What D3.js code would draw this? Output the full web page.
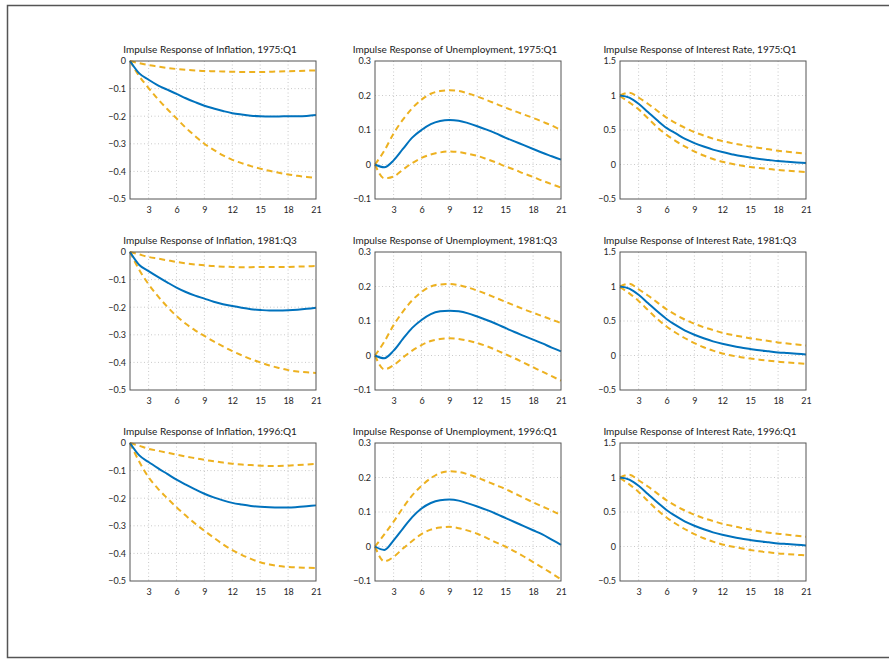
<!DOCTYPE html>
<html><head><meta charset="utf-8">
<script src="https://cdn.jsdelivr.net/npm/d3@7"></script>
<style>body{margin:0;background:#fff;} svg{display:block;}</style>
</head><body>
<svg id="chart" width="889" height="662"></svg>
<script>
const horizons = d3.range(1, 22);
const variables = ["Inflation", "Unemployment", "Interest Rate"];
const periods = ["1975:Q1", "1981:Q3", "1996:Q1"];
const yDomains = [[-0.5, 0], [-0.1, 0.3], [-0.5, 1.5]];
const yTicks = [[0, -0.1, -0.2, -0.3, -0.4, -0.5], [-0.1, 0, 0.1, 0.2, 0.3], [-0.5, 0, 0.5, 1, 1.5]];
const xTicks = [3, 6, 9, 12, 15, 18, 21];

// Inflation
const infl75Mid = [0,-0.045,-0.068,-0.088,-0.104,-0.119,-0.135,-0.149,-0.162,-0.172,-0.181,-0.189,-0.194,-0.198,-0.200,-0.201,-0.201,-0.200,-0.200,-0.199,-0.196];
const infl75Up  = [0,-0.008,-0.015,-0.020,-0.025,-0.029,-0.032,-0.034,-0.036,-0.037,-0.038,-0.039,-0.040,-0.040,-0.040,-0.039,-0.038,-0.037,-0.036,-0.035,-0.034];
const infl75Lo  = [0,-0.055,-0.098,-0.138,-0.174,-0.208,-0.242,-0.272,-0.300,-0.322,-0.342,-0.358,-0.370,-0.381,-0.390,-0.398,-0.405,-0.411,-0.416,-0.420,-0.424];
const infl81Mid = [0,-0.047,-0.069,-0.090,-0.110,-0.129,-0.145,-0.158,-0.169,-0.180,-0.189,-0.196,-0.202,-0.207,-0.210,-0.212,-0.212,-0.211,-0.209,-0.206,-0.202];
const infl81Up  = [0,-0.009,-0.018,-0.024,-0.030,-0.036,-0.041,-0.045,-0.048,-0.051,-0.053,-0.054,-0.055,-0.055,-0.054,-0.054,-0.054,-0.054,-0.053,-0.052,-0.051];
const infl81Lo  = [0,-0.065,-0.117,-0.160,-0.198,-0.232,-0.260,-0.284,-0.304,-0.324,-0.342,-0.359,-0.374,-0.388,-0.400,-0.411,-0.420,-0.428,-0.433,-0.436,-0.438];
const infl96Mid = [0,-0.045,-0.069,-0.091,-0.112,-0.133,-0.151,-0.168,-0.184,-0.197,-0.208,-0.217,-0.223,-0.228,-0.231,-0.233,-0.234,-0.234,-0.232,-0.229,-0.226];
const infl96Up  = [0,-0.010,-0.021,-0.028,-0.035,-0.042,-0.049,-0.055,-0.061,-0.066,-0.071,-0.075,-0.078,-0.080,-0.082,-0.083,-0.083,-0.082,-0.080,-0.078,-0.076];
const infl96Lo  = [0,-0.068,-0.124,-0.165,-0.200,-0.233,-0.263,-0.292,-0.318,-0.343,-0.367,-0.388,-0.405,-0.420,-0.432,-0.440,-0.446,-0.449,-0.451,-0.452,-0.453];
// Unemployment
const unem75Mid = [0,-0.008,0.012,0.045,0.078,0.100,0.117,0.126,0.129,0.127,0.120,0.111,0.101,0.090,0.078,0.067,0.056,0.045,0.034,0.024,0.014];
const unem75Up  = [0,0.040,0.090,0.130,0.163,0.188,0.205,0.213,0.215,0.213,0.206,0.197,0.187,0.176,0.165,0.155,0.145,0.135,0.124,0.113,0.100];
const unem75Lo  = [0,-0.040,-0.035,-0.015,0.004,0.019,0.029,0.035,0.038,0.036,0.031,0.025,0.016,0.006,-0.005,-0.015,-0.026,-0.036,-0.047,-0.057,-0.067];
const unem81Mid = [0,-0.008,0.014,0.048,0.080,0.103,0.120,0.128,0.130,0.128,0.122,0.113,0.103,0.092,0.080,0.068,0.057,0.046,0.035,0.023,0.012];
const unem81Up  = [0,0.040,0.088,0.127,0.160,0.184,0.200,0.206,0.207,0.204,0.197,0.188,0.178,0.167,0.156,0.145,0.134,0.124,0.114,0.104,0.094];
const unem81Lo  = [0,-0.040,-0.028,-0.006,0.014,0.030,0.042,0.048,0.050,0.048,0.043,0.036,0.027,0.016,0.004,-0.008,-0.021,-0.034,-0.047,-0.060,-0.073];
const unem96Mid = [0,-0.010,0.018,0.052,0.085,0.110,0.126,0.134,0.136,0.133,0.125,0.116,0.106,0.095,0.083,0.071,0.059,0.047,0.035,0.020,0.005];
const unem96Up  = [0,0.035,0.072,0.112,0.148,0.176,0.198,0.213,0.218,0.216,0.209,0.200,0.189,0.178,0.167,0.154,0.141,0.128,0.116,0.104,0.091];
const unem96Lo  = [0,-0.043,-0.030,-0.006,0.016,0.036,0.049,0.055,0.057,0.053,0.046,0.037,0.025,0.012,0.000,-0.014,-0.029,-0.045,-0.061,-0.078,-0.095];
// Interest Rate
const rate75Mid = [1.0,0.97,0.88,0.76,0.64,0.53,0.45,0.37,0.31,0.26,0.215,0.18,0.15,0.122,0.10,0.08,0.065,0.05,0.04,0.03,0.02];
const rate75Up  = [1.0,1.04,0.97,0.88,0.78,0.68,0.60,0.53,0.47,0.42,0.375,0.34,0.31,0.285,0.26,0.24,0.22,0.20,0.185,0.17,0.155];
const rate75Lo  = [0.99,0.90,0.80,0.67,0.54,0.43,0.34,0.26,0.19,0.13,0.08,0.04,0.01,-0.015,-0.035,-0.05,-0.065,-0.08,-0.09,-0.10,-0.11];
const rate81Mid = [1.0,0.97,0.88,0.76,0.64,0.53,0.44,0.36,0.30,0.25,0.205,0.17,0.14,0.115,0.095,0.075,0.06,0.045,0.035,0.025,0.015];
const rate81Up  = [1.0,1.04,0.96,0.87,0.77,0.67,0.59,0.52,0.46,0.41,0.37,0.33,0.30,0.275,0.25,0.23,0.21,0.19,0.175,0.16,0.145];
const rate81Lo  = [0.99,0.90,0.79,0.66,0.53,0.42,0.33,0.25,0.18,0.12,0.07,0.03,0.00,-0.025,-0.045,-0.06,-0.075,-0.09,-0.10,-0.11,-0.12];
const rate96Mid = [1.0,0.97,0.88,0.76,0.64,0.53,0.44,0.36,0.30,0.25,0.205,0.17,0.14,0.115,0.095,0.075,0.06,0.045,0.035,0.025,0.015];
const rate96Up  = [1.0,1.04,0.96,0.87,0.77,0.67,0.59,0.52,0.46,0.41,0.37,0.33,0.30,0.27,0.245,0.22,0.20,0.185,0.17,0.155,0.14];
const rate96Lo  = [0.99,0.90,0.79,0.66,0.53,0.42,0.33,0.25,0.18,0.12,0.07,0.03,0.00,-0.025,-0.05,-0.07,-0.085,-0.10,-0.11,-0.12,-0.13];

const panelData = [
  [[infl75Mid, infl75Up, infl75Lo], [unem75Mid, unem75Up, unem75Lo], [rate75Mid, rate75Up, rate75Lo]],
  [[infl81Mid, infl81Up, infl81Lo], [unem81Mid, unem81Up, unem81Lo], [rate81Mid, rate81Up, rate81Lo]],
  [[infl96Mid, infl96Up, infl96Lo], [unem96Mid, unem96Up, unem96Lo], [rate96Mid, rate96Up, rate96Lo]]
];

const svg = d3.select("#chart");
const font = "Lato, 'Open Sans', sans-serif";
svg.append("rect").attr("x", 7.5).attr("y", 5.5).attr("width", 890).attr("height", 652)
  .attr("fill", "none").attr("stroke", "#555").attr("stroke-width", 1.5);

const colLeft = [130, 375, 620];
const rowTop = [61, 252, 443];
const W = 186, H = 138;
const fmt = v => (v < 0 ? "\u2212" : "") + d3.format("")(Math.abs(v));

periods.forEach((per, r) => {
  variables.forEach((vn, c) => {
    const g = svg.append("g").attr("transform", `translate(${colLeft[c]},${rowTop[r]})`);
    const x = d3.scaleLinear().domain([1, 21]).range([0, W]);
    const y = d3.scaleLinear().domain(yDomains[c]).range([H, 0]);
    // grid
    g.append("g").selectAll("line").data(xTicks.filter(t => t < 21)).join("line")
      .attr("x1", d => x(d)).attr("x2", d => x(d)).attr("y1", 0).attr("y2", H)
      .attr("stroke", "#bdbdbd").attr("stroke-width", 0.8).attr("stroke-dasharray", "1,2.5");
    g.append("g").selectAll("line").data(yTicks[c].filter(t => t !== yDomains[c][0] && t !== yDomains[c][1])).join("line")
      .attr("x1", 0).attr("x2", W).attr("y1", d => y(d)).attr("y2", d => y(d))
      .attr("stroke", "#bdbdbd").attr("stroke-width", 0.8).attr("stroke-dasharray", "1,2.5");
    // axes
    const xa = g.append("g").attr("transform", `translate(0,${H})`)
      .call(d3.axisBottom(x).tickValues(xTicks).tickSize(0).tickPadding(8).tickFormat(d3.format("d")));
    const ya = g.append("g")
      .call(d3.axisLeft(y).tickValues(yTicks[c]).tickSize(0).tickPadding(4).tickFormat(fmt));
    [xa, ya].forEach(a => {
      a.select(".domain").remove();
      a.selectAll("text").attr("font-family", font).attr("font-size", 9).attr("fill", "#262626");
    });
    // lines
    const line = d3.line().x((d, i) => x(horizons[i])).y(d => y(d)).curve(d3.curveMonotoneX);
    const [mid, up, lo] = panelData[r][c];
    [up, lo].forEach(s => {
      g.append("path").datum(s).attr("d", line).attr("fill", "none")
        .attr("stroke", "#EDB120").attr("stroke-width", 2).attr("stroke-dasharray", "6,4");
    });
    g.append("path").datum(mid).attr("d", line).attr("fill", "none")
      .attr("stroke", "#0072BD").attr("stroke-width", 2);
    // box
    g.append("rect").attr("x", 0).attr("y", 0).attr("width", W).attr("height", H)
      .attr("fill", "none").attr("stroke", "#555").attr("stroke-width", 1);
    // title
    g.append("text").attr("x", W / 2 - 13).attr("y", -8).attr("text-anchor", "middle")
      .attr("font-family", font).attr("font-size", 10).attr("fill", "#1a1a1a")
      .text(`Impulse Response of ${vn}, ${per}`);
  });
});
</script>
</body></html>
